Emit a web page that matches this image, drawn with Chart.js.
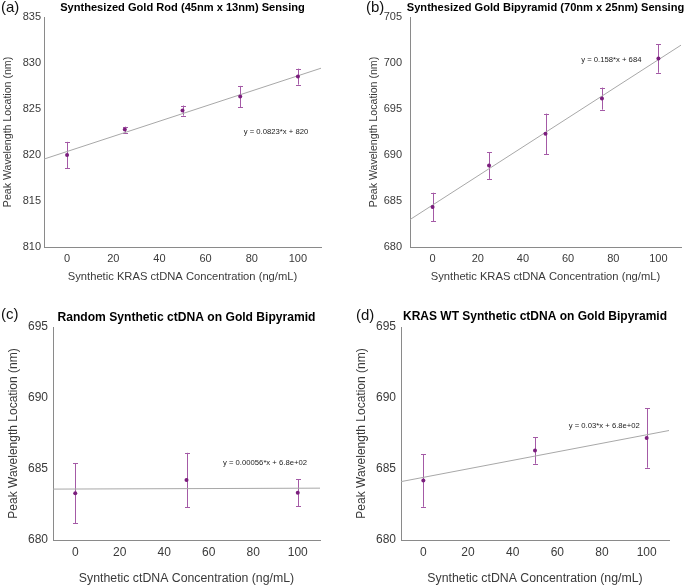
<!DOCTYPE html>
<html><head><meta charset="utf-8">
<script src="https://cdn.jsdelivr.net/npm/chart.js@4.4.1/dist/chart.umd.min.js"></script>
<style>
html,body{margin:0;padding:0;background:#fff;width:685px;height:587px;overflow:hidden}
canvas{position:absolute}
</style></head><body>
<canvas id="ca" style="left:0;top:0" width="340" height="290"></canvas>
<canvas id="cb" style="left:340px;top:0" width="345" height="290"></canvas>
<canvas id="cc" style="left:0;top:290px" width="340" height="297"></canvas>
<canvas id="cd" style="left:340px;top:290px" width="345" height="297"></canvas>
<script>
// ---- data ----
const xRange = [-10, 110];
const xTicks = [0, 20, 40, 60, 80, 100];

const concA = [0, 25, 50, 75, 100];
const peakA = [820.0, 822.76, 824.83, 826.35, 828.52];
const errA  = [1.43, 0.32, 0.55, 1.16, 0.87];
const fitA  = [0.0823, 820.38];
const yTicksA = [810, 815, 820, 825, 830, 835];

const concB = [0, 25, 50, 75, 100];
const peakB = [684.35, 688.85, 692.3, 696.13, 700.5];
const errB  = [1.55, 1.45, 2.2, 1.2, 1.56];
const fitB  = [0.158, 684.56];
const yTicksB = [680, 685, 690, 695, 700, 705];

const concC = [0, 50, 100];
const peakC = [683.29, 684.23, 683.33];
const errC  = [2.12, 1.91, 0.94];
const fitC  = [0.00056, 683.59];
const yTicksC = [680, 685, 690, 695];

const concD = [0, 50, 100];
const peakD = [684.19, 686.3, 687.19];
const errD  = [1.85, 0.93, 2.1];
const fitD  = [0.03, 684.41];
const yTicksD = [680, 685, 690, 695];

const titles = [
  'Synthesized Gold Rod (45nm x 13nm) Sensing',
  'Synthesized Gold Bipyramid (70nm x 25nm) Sensing',
  'Random Synthetic ctDNA on Gold Bipyramid',
  'KRAS WT Synthetic ctDNA on Gold Bipyramid'
];
const panelLabels = ['(a)', '(b)', '(c)', '(d)'];
const equations = [
  'y = 0.0823*x + 820',
  'y = 0.158*x + 684',
  'y = 0.00056*x + 6.8e+02',
  'y = 0.03*x + 6.8e+02'
];
const xTitles = [
  'Synthetic KRAS ctDNA Concentration (ng/mL)',
  'Synthetic KRAS ctDNA Concentration (ng/mL)',
  'Synthetic ctDNA Concentration (ng/mL)',
  'Synthetic ctDNA Concentration (ng/mL)'
];
const yTitle = 'Peak Wavelength Location (nm)';

// ---- drawing ----
const FONT = "'Liberation Sans', Arial, Helvetica, sans-serif";
const decor = {
  id: 'decor',
  beforeDatasetsDraw(chart) {
    const o = chart.options.plugins.decor;
    const ds = chart.data.datasets[1];
    const xs = chart.scales.x, ys = chart.scales.y;
    const ctx = chart.ctx;
    ctx.save();
    ctx.strokeStyle = '#a45aa6';
    ctx.lineWidth = 1;
    ds.data.forEach((p, i) => {
      const e = o.err[i];
      const px = Math.round(xs.getPixelForValue(p.x)) + 0.5;
      const y1 = ys.getPixelForValue(p.y + e), y2 = ys.getPixelForValue(p.y - e);
      ctx.beginPath();
      ctx.moveTo(px, y1); ctx.lineTo(px, y2);
      ctx.moveTo(px - 2.5, Math.round(y1) + 0.5); ctx.lineTo(px + 2.5, Math.round(y1) + 0.5);
      ctx.moveTo(px - 2.5, Math.round(y2) + 0.5); ctx.lineTo(px + 2.5, Math.round(y2) + 0.5);
      ctx.stroke();
    });
    ctx.restore();
  },
  afterDraw(chart) {
    const o = chart.options.plugins.decor;
    const ctx = chart.ctx, a = chart.chartArea;
    ctx.save();
    ctx.fillStyle = '#000';
    ctx.textBaseline = 'middle';
    ctx.textAlign = 'center';
    ctx.font = 'bold ' + o.titleSize + 'px ' + FONT;
    ctx.fillText(o.title, (a.left + a.right) / 2 + o.titleDx, o.titleY);
    ctx.textAlign = 'left';
    ctx.font = o.labelSize + 'px ' + FONT;
    ctx.fillStyle = '#111';
    ctx.fillText(o.label, o.labelX, o.labelY);
    ctx.font = o.eqSize + 'px ' + FONT;
    ctx.fillStyle = '#222';
    ctx.fillText(o.eq, chart.scales.x.getPixelForValue(o.eqPos[0]), chart.scales.y.getPixelForValue(o.eqPos[1]));
    ctx.restore();
  }
};

function makePanel(id, i, W, H, area, conc, peak, err, fit, yTicks, st) {
  const pts = conc.map((x, k) => ({x: x, y: peak[k]}));
  const line = xRange.map(x => ({x: x, y: fit[0] * x + fit[1]}));
  return new Chart(document.getElementById(id), {
    type: 'scatter',
    data: { datasets: [
      { data: line, showLine: true, borderColor: '#a8a8a8', borderWidth: 1, pointRadius: 0, order: 2 },
      { data: pts, pointRadius: 2, pointBackgroundColor: '#7b1e7d', pointBorderColor: '#7b1e7d', pointBorderWidth: 0, order: 1 }
    ]},
    options: {
      responsive: false, maintainAspectRatio: false, animation: false,
      layout: { padding: { left: 0, right: W - area.r, top: area.t, bottom: 0 } },
      plugins: {
        legend: { display: false }, tooltip: { enabled: false },
        decor: { err: err, title: titles[i], label: panelLabels[i], eq: equations[i],
          titleSize: st.titleSize, titleY: st.titleY, titleDx: st.titleDx || 0,
          labelSize: st.labelSize, labelX: st.labelX, labelY: st.labelY,
          eqSize: st.eqSize, eqPos: st.eqPos }
      },
      scales: {
        x: {
          type: 'linear', min: xRange[0], max: xRange[1],
          afterBuildTicks: s => { s.ticks = xTicks.map(v => ({value: v})); },
          afterFit: s => { s.height = H - area.b; },
          grid: { display: false, drawTicks: false },
          border: { color: '#8a8a8a', width: 1 },
          ticks: { color: '#3a3a3a', padding: st.xTickPad, font: { family: FONT, size: st.tickSize } },
          title: { display: true, text: xTitles[i], color: '#3a3a3a', font: { family: FONT, size: st.xAxisSize, lineHeight: 1.2 }, padding: { top: 0, bottom: st.xTitlePad } }
        },
        y: {
          type: 'linear', min: yTicks[0], max: yTicks[yTicks.length - 1],
          afterBuildTicks: s => { s.ticks = yTicks.map(v => ({value: v})); },
          afterFit: s => { s.width = area.l; },
          grid: { display: false, drawTicks: false },
          border: { color: '#8a8a8a', width: 1 },
          ticks: { color: '#3a3a3a', padding: st.yTickPad, font: { family: FONT, size: st.tickSize } },
          title: { display: true, text: yTitle, color: '#3a3a3a', font: { family: FONT, size: st.yAxisSize, lineHeight: 1.2 }, padding: { top: st.yTitlePad, bottom: 0 } }
        }
      }
    },
    plugins: [decor]
  });
}

makePanel('ca', 0, 340, 290, {l: 44, r: 321, t: 17, b: 247}, concA, peakA, errA, fitA, yTicksA,
  {titleSize: 11.1, titleY: 8, labelSize: 15, labelX: 1, labelY: 8, eqSize: 7.7, eqPos: [76.5, 822.5],
   tickSize: 11, xAxisSize: 11.2, yAxisSize: 10.6, xTickPad: 5, xTitlePad: 6, yTickPad: 3, yTitlePad: 1.5});
makePanel('cb', 1, 345, 290, {l: 70, r: 342, t: 17, b: 247}, concB, peakB, errB, fitB, yTicksB,
  {titleSize: 11.1, titleY: 8, labelSize: 15, labelX: 26, labelY: 8, eqSize: 7.7, eqPos: [65.8, 700.3],
   tickSize: 11, xAxisSize: 11.2, yAxisSize: 10.6, xTickPad: 5, xTitlePad: 6, yTickPad: 8, yTitlePad: 27.5});
makePanel('cc', 2, 340, 297, {l: 53, r: 320, t: 37, b: 250}, concC, peakC, errC, fitC, yTicksC,
  {titleSize: 12.1, titleY: 28, labelSize: 15, labelX: 1, labelY: 25, eqSize: 7.7, eqPos: [66.4, 685.44],
   tickSize: 12, xAxisSize: 12.3, yAxisSize: 12, xTickPad: 5, xTitlePad: 1.5, yTickPad: 5, yTitlePad: 6});
makePanel('cd', 3, 345, 297, {l: 61, r: 329, t: 37, b: 250}, concD, peakD, errD, fitD, yTicksD,
  {titleSize: 12, titleY: 27, labelSize: 15, labelX: 16, labelY: 26, eqSize: 7.7, eqPos: [65.1, 688.04],
   tickSize: 12, xAxisSize: 12.3, yAxisSize: 12, xTickPad: 5, xTitlePad: 1.5, yTickPad: 5, yTitlePad: 14.5});
</script>
</body></html>
